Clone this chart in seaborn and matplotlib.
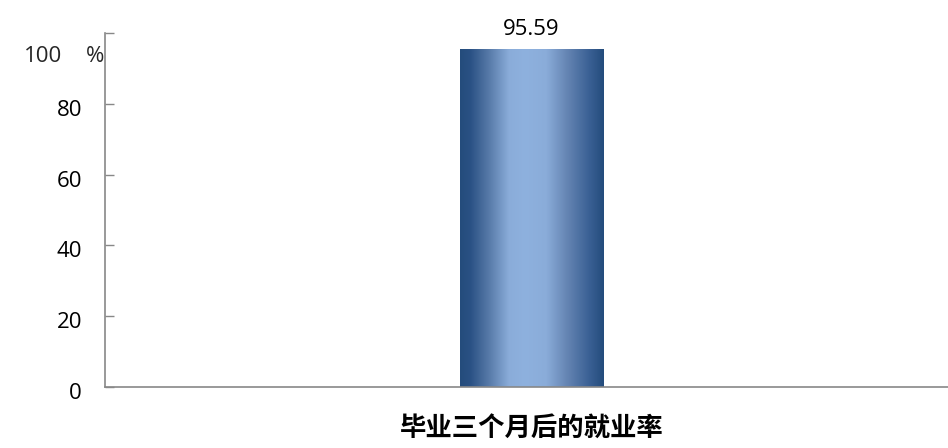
import numpy as np
import pandas as pd
import matplotlib
matplotlib.use("Agg")
import matplotlib.pyplot as plt
import matplotlib.transforms as mtransforms
from matplotlib.colors import LinearSegmentedColormap
import seaborn as sns

categories = ["毕业三个月后的就业率"]
values = [95.59]
yticks = [0, 20, 40, 60, 80, 100]
ytick_labels = ["0", "20", "40", "60", "80", ""]

sns.set_theme(style="white")
plt.rcParams["font.family"] = ["Open Sans", "Noto Sans CJK SC", "DejaVu Sans"]

fig = plt.figure(figsize=(9.48, 4.48), dpi=100)
ax = fig.add_axes([105 / 948, 61 / 448, 843 / 948, 354 / 448])

df = pd.DataFrame({"cat": categories, "val": values})
sns.barplot(data=df, x="cat", y="val", ax=ax, width=0.4, color="#244C7C",
            edgecolor="none", errorbar=None)

# gradient overlay on bar
cmap = LinearSegmentedColormap.from_list(
    "bargrad",
    [(0.0, "#244C7C"), (0.07, "#2A5184"), (0.2, "#577AA8"),
     (0.34, "#8AACD9"), (0.45, "#8EB1DE"), (0.6, "#8AACD9"),
     (0.74, "#6686B4"), (0.9, "#3A6094"), (1.0, "#244C7C")])
grad = np.linspace(0, 1, 256).reshape(1, -1)
for p in ax.patches:
    x0, y0 = p.get_x(), p.get_y()
    w, h = p.get_width(), p.get_height()
    im = ax.imshow(grad, cmap=cmap, aspect="auto",
                   extent=[x0, x0 + w, y0, y0 + h], zorder=p.get_zorder() + 0.1)
    im.set_clip_path(p)
    ax.annotate(f"{h:.2f}", xy=(x0 + w / 2, y0 + h), xytext=(0, 6),
                textcoords="offset points", ha="center", va="bottom",
                fontsize=16, color="#000000")
ax.set_xlim(-1.193, 1.165)
ax.set_ylim(0, 100)

ax.set_yticks(yticks)
ax.set_yticklabels(ytick_labels)
ax.tick_params(axis="y", direction="in", length=6.5, width=1, color="#888888",
               pad=16.5, labelsize=16, labelcolor="#000000", left=True)
ax.tick_params(axis="x", bottom=False, pad=15)
off = mtransforms.ScaledTranslation(0, -4 / 100, fig.dpi_scale_trans)
for lab in ax.get_yticklabels():
    lab.set_transform(lab.get_transform() + off)

for lab in ax.get_xticklabels():
    lab.set_fontfamily(["Noto Sans CJK SC", "DejaVu Sans"])
    lab.set_fontweight("bold")
    lab.set_fontsize(19)
    lab.set_color("#000000")

ax.set_xlabel("")
ax.set_ylabel("")
for s in ["top", "right"]:
    ax.spines[s].set_visible(False)
for s in ["left", "bottom"]:
    ax.spines[s].set_color("#888888")
    ax.spines[s].set_linewidth(1.2)

fig.text(62 / 948, 1 - 57 / 448, "100", ha="right", va="center", fontsize=16)
fig.text(86 / 948, 1 - 57 / 448, "%", ha="left", va="center", fontsize=16)

fig.savefig("out.png", dpi=100)
